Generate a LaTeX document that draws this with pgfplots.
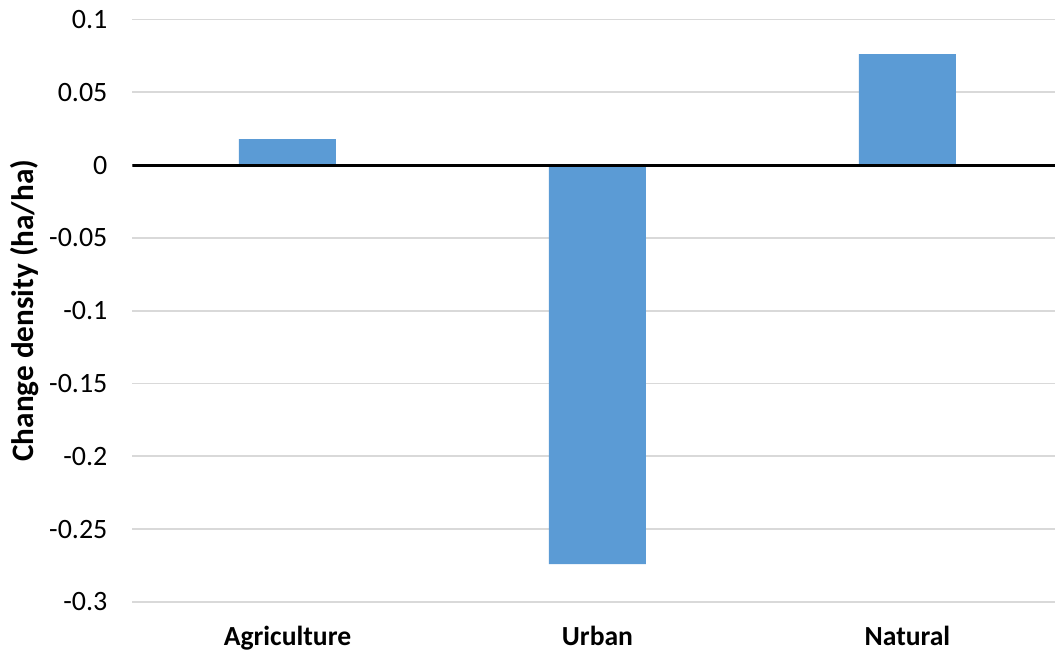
\documentclass[border=0pt]{standalone}
\usepackage{pgfplots}
\pgfplotsset{compat=1.18}
\usepackage{fontspec}
\setmainfont{Carlito}
\definecolor{barblue}{HTML}{5B9BD5}
\definecolor{gridgray}{HTML}{D9D9D9}
\begin{document}
\begin{tikzpicture}
\path[use as bounding box] (-66.25pt,-29pt) rectangle (461.25pt,301pt);
\begin{axis}[
  scale only axis,
  width=461.25pt, height=291.25pt,
  xmin=-0.5, xmax=2.476,
  ymin=-0.3, ymax=0.1,
  axis lines=none,
  ytick={-0.3,-0.25,-0.2,-0.15,-0.1,-0.05,0,0.05,0.1},
  yticklabels={-0.3,-0.25,-0.2,-0.15,-0.1,-0.05,0,0.05,0.1},
  xtick={0,1,2},
  xticklabels={Agriculture,Urban,Natural},
  ymajorgrids,
  grid style={gridgray, line width=0.9pt},
  major tick length=0pt,
  tick label style={font=\fontsize{14}{16}\selectfont},
  yticklabel style={anchor=east, xshift=-9pt},
  xticklabel style={anchor=north, yshift=-8.5pt, font=\fontsize{13.8}{16}\selectfont\bfseries},
  ylabel={Change density (ha/ha)},
  ylabel style={at={(axis description cs:-0.1175,0.5)}, anchor=center, font=\fontsize{15.6}{18}\selectfont\bfseries},
  hide x axis=false, hide y axis=false,
  axis line style={draw=none},
  ybar, bar width=48.5pt,
]
\addplot[fill=barblue, draw=none] coordinates {(0,0.0179) (1,-0.274) (2,0.0763)};
\draw[black, line width=1.5pt] ({rel axis cs:0,0}|-{axis cs:0,0}) -- ({rel axis cs:1,0}|-{axis cs:0,0});
\end{axis}
\end{tikzpicture}
\end{document}
